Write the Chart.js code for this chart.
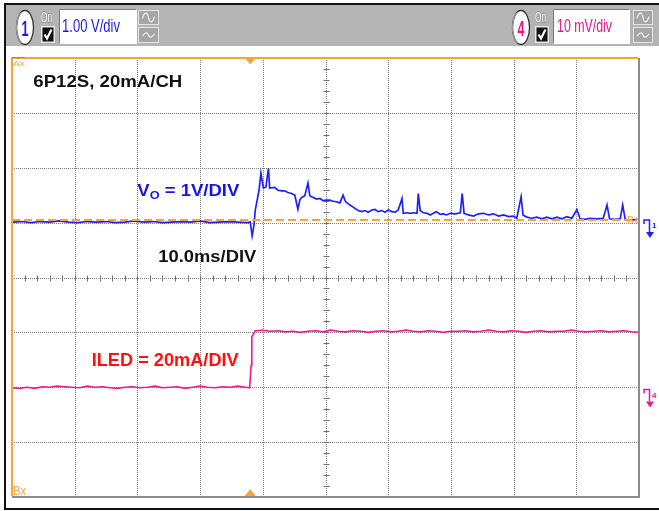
<!DOCTYPE html>
<html><head><meta charset="utf-8">
<script src="https://cdn.jsdelivr.net/npm/chart.js@4.4.0/dist/chart.umd.min.js"></script>
<style>html,body{margin:0;padding:0;background:#fff;overflow:hidden}canvas{display:block}</style>
</head><body>
<canvas id="c" width="659" height="511"></canvas>
<script>
// ---- data (time in ms, amplitude in screen divisions) ----
const voTime = [0,1.5,3,4.5,6,7.5,9,10.5,12,13.5,15,16.5,18,19.5,21,22.5,24,25.5,27,28.5,30,31.5,33,34.5,36,37.5,38.0,38.3,38.6,38.8,39.1,39.4,39.7,
  40.1,40.5,40.9,41.1,41.9,42.4,43.0,43.5,44.0,44.6,45.1,45.6,45.9,46.2,46.7,47.2,47.5,48.0,48.6,49.1,49.6,50.2,50.7,51.2,51.7,52.3,52.8,53.2,53.9,54.7,55.2,55.8,56.3,56.8,57.4,57.9,58.4,59.0,59.5,60.0,60.6,61.1,61.6,62.2,62.4,63.0,63.5,64.0,64.6,64.8,65.1,65.6,66.2,66.7,67.2,67.7,68.3,68.8,69.3,69.9,
  70.7,71.5,71.8,72.1,72.8,73.6,74.4,75.2,76.0,76.8,77.6,78.4,79.2,80.0,80.5,81.2,81.5,82.1,82.9,83.7,84.5,85.3,86.1,86.9,87.7,88.5,89.3,90.1,90.6,91.4,92.2,93.3,94.3,94.9,95.3,96.2,97.0,97.4,97.8,98.6,99.7];
const voDiv  = [1.01,1.02,1.00,1.02,1.01,1.03,1.01,1.00,1.02,1.01,1.02,1.00,1.01,1.03,1.01,1.02,1.00,1.01,1.02,1.01,1.03,1.00,1.01,1.02,1.01,1.00,1.01,0.76,0.96,1.23,1.41,1.59,1.90,
  1.63,1.65,1.99,1.63,1.64,1.59,1.58,1.58,1.55,1.53,1.50,1.24,1.41,1.46,1.49,1.72,1.49,1.46,1.43,1.44,1.40,1.41,1.41,1.39,1.38,1.36,1.50,1.38,1.32,1.26,1.22,1.20,1.22,1.19,1.23,1.24,1.20,1.22,1.19,1.23,1.20,1.19,1.23,1.44,1.17,1.18,1.17,1.18,1.17,1.53,1.22,1.18,1.17,1.14,1.17,1.20,1.15,1.16,1.14,1.17,
  1.16,1.18,1.53,1.17,1.14,1.12,1.16,1.17,1.14,1.16,1.12,1.14,1.11,1.12,1.08,1.47,1.14,1.10,1.08,1.10,1.07,1.10,1.07,1.10,1.07,1.11,1.08,1.24,1.07,1.06,1.08,1.07,1.08,1.32,1.07,1.06,1.07,1.32,1.06,1.04,1.06];
const iledTime = [0,1.2,2.4,3.6,4.8,6,7.2,8.4,9.6,10.8,12,13.2,14.4,15.6,16.8,18,19.2,20.4,21.6,22.8,24,25.2,26.4,27.6,28.8,30,31.2,32.4,33.6,34.8,36,37.2,37.9,38.15,38.25,
  38.8,40,41.2,42.4,43.6,44.8,46,47.2,48.4,49.6,50.8,52,53.2,54.4,55.6,56.8,58,59.2,60.4,61.6,62.8,64,65.2,66.4,67.6,68.8,70,71.2,72.4,73.6,74.8,76,77.2,78.4,79.6,80.8,82,83.2,84.4,85.6,86.8,88,89.2,90.4,91.6,92.8,94,95.2,96.4,97.6,98.8,100];
const iledDiv  = [-2.01,-2.02,-2.00,-2.02,-1.99,-2.00,-1.98,-1.99,-2.00,-2.01,-1.98,-2.00,-1.99,-2.01,-2.02,-2.00,-1.99,-2.01,-2.00,-1.98,-2.01,-2.00,-1.99,-2.02,-2.00,-1.98,-2.00,-2.01,-1.99,-2.00,-1.98,-2.00,-2.01,-1.60,-1.08,
  -0.97,-0.96,-0.98,-0.97,-0.99,-0.98,-1.00,-0.98,-0.97,-0.99,-0.96,-0.98,-0.99,-0.97,-0.98,-1.00,-0.98,-0.97,-0.99,-0.98,-0.96,-0.98,-0.99,-0.97,-0.98,-1.00,-0.98,-0.98,-0.97,-0.99,-0.98,-0.96,-0.98,-0.99,-0.97,-0.98,-1.00,-0.98,-0.97,-0.99,-0.98,-0.98,-0.96,-0.98,-0.99,-0.98,-0.97,-0.99,-0.98,-0.97,-0.99,-1.00];
const refTime = [0, 99.6];
const refDiv  = [1.05, 1.05];
const xGridTicks = [0,10,20,30,40,50,60,70,80,90,100];
const yGridTicks = [-4,-3,-2,-1,0,1,2,3,4];
const ch1Label = "1.00 V/div";
const ch4Label = "10 mV/div";
const titleText = "6P12S, 20mA/CH";
const voText = ["V", "O", " = 1V/DIV"];
const timeText = "10.0ms/DIV";
const iledText = "ILED = 20mA/DIV";

const FONT = "'Liberation Sans', Arial, sans-serif";
const ORANGE = '#f7a43c';
const BLUE = '#2020ff';
const PINK = '#f01890';

function fitText(ctx, txt, x, y, font, color, w) {
  ctx.save(); ctx.font = font; ctx.fillStyle = color; ctx.textBaseline = 'alphabetic';
  const m = ctx.measureText(txt).width; ctx.translate(x, y); ctx.scale(w / m, 1);
  ctx.fillText(txt, 0, 0); ctx.restore();
}

function drawGroup(ctx, g) {
  ctx.save();
  ctx.beginPath(); ctx.ellipse(g.ovalCx, 27.5, 8.5, 17, 0, 0, Math.PI * 2);
  ctx.fillStyle = '#fff'; ctx.fill(); ctx.lineWidth = 1.3; ctx.strokeStyle = '#333'; ctx.stroke();
  ctx.beginPath(); ctx.ellipse(g.ovalCx - 1, 27.5, 7.5, 16, 0, Math.PI * 0.6, Math.PI * 1.4);
  ctx.strokeStyle = '#9a9a9a'; ctx.lineWidth = 1.2; ctx.stroke();
  ctx.restore();
  fitText(ctx, g.digit, g.ovalCx - 3.5, 36, 'bold 22px ' + FONT, g.color, 7);
  // On
  ctx.save(); ctx.font = '15px ' + FONT;
  const mw = ctx.measureText('On').width; ctx.translate(g.onX, 22); ctx.scale(11 / mw, 1);
  ctx.lineWidth = 1.4; ctx.strokeStyle = '#8a8a8a'; ctx.strokeText('On', 0, 0);
  ctx.fillStyle = '#fbfbfb'; ctx.fillText('On', 0, 0); ctx.restore();
  // checkbox
  ctx.fillStyle = '#e6e6e6'; ctx.fillRect(g.onX, 26, 14, 17);
  ctx.fillStyle = '#111'; ctx.fillRect(g.onX + 1.5, 27.5, 11, 14);
  ctx.beginPath(); ctx.moveTo(g.onX + 3.5, 34.5); ctx.lineTo(g.onX + 6, 38.5); ctx.lineTo(g.onX + 10.5, 29.5);
  ctx.strokeStyle = '#fff'; ctx.lineWidth = 2.2; ctx.stroke();
  // value box
  ctx.fillStyle = '#fff'; ctx.fillRect(g.boxX, 9, g.boxW, 35);
  ctx.strokeStyle = '#7a7a7a'; ctx.lineWidth = 1;
  ctx.beginPath(); ctx.moveTo(g.boxX + 0.5, 43.5); ctx.lineTo(g.boxX + 0.5, 9.5); ctx.lineTo(g.boxX + g.boxW - 0.5, 9.5); ctx.stroke();
  fitText(ctx, g.label, g.textX, 32, '18px ' + FONT, g.color, g.textW);
  // buttons
  [[10, 15], [27, 16]].forEach((b, i) => {
    ctx.fillStyle = '#a6a6a6'; ctx.fillRect(g.btnX, b[0], g.btnW, b[1]);
    ctx.strokeStyle = '#e4e4e4'; ctx.lineWidth = 1;
    ctx.strokeRect(g.btnX + 0.5, b[0] + 0.5, g.btnW - 1, b[1] - 1);
    ctx.beginPath();
    const cx = g.btnX + g.btnW / 2, cy = b[0] + b[1] / 2;
    if (i === 0) {
      ctx.moveTo(cx - 6, cy + 1);
      ctx.bezierCurveTo(cx - 4, cy - 6, cx - 1, cy - 6, cx, cy);
      ctx.bezierCurveTo(cx + 1, cy + 6, cx + 4, cy + 6, cx + 6, cy - 1);
    } else {
      ctx.moveTo(cx - 6, cy + 1);
      ctx.bezierCurveTo(cx - 3, cy - 3, cx - 1, cy - 3, cx, cy);
      ctx.bezierCurveTo(cx + 1, cy + 3, cx + 3, cy + 3, cx + 6, cy - 1);
    }
    ctx.strokeStyle = '#f4f4f4'; ctx.lineWidth = 1.1; ctx.stroke();
  });
}

function chMarker(ctx, y, color, digit) {
  ctx.save(); ctx.strokeStyle = color; ctx.fillStyle = color; ctx.lineWidth = 1.5;
  ctx.beginPath(); ctx.moveTo(644, y + 4); ctx.lineTo(644, y); ctx.lineTo(649.5, y); ctx.lineTo(649.5, y + 12); ctx.stroke();
  ctx.beginPath(); ctx.moveTo(646, y + 12); ctx.lineTo(654, y + 12); ctx.lineTo(650, y + 18); ctx.closePath(); ctx.fill();
  ctx.font = 'bold 8px ' + FONT; ctx.fillText(digit, 652, y + 8);
  ctx.restore();
}

const scopePlugin = {
  id: 'scope',
  beforeDraw(chart) {
    const ctx = chart.ctx, xs = chart.scales.x, ys = chart.scales.y, a = chart.chartArea;
    ctx.save();
    ctx.fillStyle = '#fff'; ctx.fillRect(0, 0, 659, 511);
    ctx.fillStyle = '#b4b4b4'; ctx.fillRect(6, 5, 653, 41);
    drawGroup(ctx, {ovalCx: 25, digit: '1', color: '#1a1ae8', onX: 41, boxX: 59, boxW: 78, textX: 62, textW: 58, label: ch1Label, btnX: 138, btnW: 21});
    drawGroup(ctx, {ovalCx: 521, digit: '4', color: '#e6148a', onX: 535, boxX: 553, boxW: 77, textX: 557, textW: 55, label: ch4Label, btnX: 633, btnW: 20});
    ctx.fillStyle = '#111';
    ctx.fillRect(4, 3, 655, 2);
    ctx.fillRect(4, 3, 2, 507);
    ctx.fillRect(4, 508, 655, 2);
    // grid
    ctx.strokeStyle = '#7e7e7e'; ctx.lineWidth = 1; ctx.setLineDash([1, 1]);
    xGridTicks.forEach(t => {
      const px = Math.round(xs.getPixelForValue(t)) + 0.5;
      ctx.beginPath(); ctx.moveTo(px, a.top); ctx.lineTo(px, a.bottom); ctx.stroke();
    });
    yGridTicks.forEach(v => {
      const py = Math.round(ys.getPixelForValue(v)) + 0.5;
      ctx.beginPath(); ctx.moveTo(a.left, py); ctx.lineTo(a.right, py); ctx.stroke();
    });
    ctx.setLineDash([]);
    ctx.strokeStyle = '#707070';
    const cy = Math.round(ys.getPixelForValue(0)) + 0.5;
    const cx = Math.round(xs.getPixelForValue(50)) + 0.5;
    for (let i = 1; i < 50; i++) {
      const px = Math.round(xs.getPixelForValue(i * 2)) + 0.5;
      ctx.beginPath(); ctx.moveTo(px, cy - 3); ctx.lineTo(px, cy + 3); ctx.stroke();
    }
    for (let i = 1; i < 40; i++) {
      const py = Math.round(ys.getPixelForValue(-4 + i * 0.2)) + 0.5;
      ctx.beginPath(); ctx.moveTo(cx - 3, py); ctx.lineTo(cx + 3, py); ctx.stroke();
    }
    ctx.restore();
  },
  afterDatasetsDraw(chart) {
    const ctx = chart.ctx, a = chart.chartArea, xs = chart.scales.x;
    ctx.save();
    ctx.fillStyle = '#8c8c8c';
    ctx.fillRect(a.left, a.bottom - 1, a.right - a.left + 1, 2);
    ctx.fillRect(a.right - 1, a.top, 2, a.bottom - a.top + 1);
    ctx.fillStyle = ORANGE;
    ctx.fillRect(a.left - 1, a.top - 1, a.right - a.left, 2);
    ctx.fillRect(a.left - 1, a.top - 1, 2, a.bottom - a.top);
    ctx.fillStyle = '#8c8c8c'; ctx.fillRect(a.left, a.top - 1, 13, 1);
    const tx = xs.getPixelForValue(38.0);
    ctx.fillStyle = ORANGE;
    ctx.beginPath(); ctx.moveTo(tx - 5.5, a.top); ctx.lineTo(tx + 5.5, a.top); ctx.lineTo(tx, a.top + 6.5); ctx.closePath(); ctx.fill();
    ctx.beginPath(); ctx.moveTo(tx - 5.5, a.bottom - 1); ctx.lineTo(tx + 5.5, a.bottom - 1); ctx.lineTo(tx, a.bottom - 8); ctx.closePath(); ctx.fill();
    fitText(ctx, 'Ax', a.left + 1, a.top + 8, '8px ' + FONT, ORANGE, 12);
    fitText(ctx, 'Bx', a.left + 1, a.bottom - 2, '13px ' + FONT, ORANGE, 13);
    fitText(ctx, 'Bx', 627, 224, '10px ' + FONT, ORANGE, 12);
    chMarker(ctx, 220, BLUE, '1');
    chMarker(ctx, 389.5, PINK, '4');
    fitText(ctx, titleText, 33.3, 87.3, 'bold 17px ' + FONT, '#111', 149);
    fitText(ctx, timeText, 158.3, 261.7, 'bold 17px ' + FONT, '#111', 98);
    fitText(ctx, iledText, 91.7, 366, 'bold 18px ' + FONT, '#ff1010', 147);
    ctx.font = 'bold 16px ' + FONT; const wV = ctx.measureText(voText[0]).width, wR = ctx.measureText(voText[2]).width;
    ctx.font = 'bold 11px ' + FONT; const wO = ctx.measureText(voText[1]).width;
    const s = 102 / (wV + wO + wR);
    ctx.translate(137.3, 195.7); ctx.scale(s, 1); ctx.fillStyle = '#1414ee';
    ctx.font = 'bold 16px ' + FONT; ctx.fillText(voText[0], 0, 0); ctx.fillText(voText[2], wV + wO, 0);
    ctx.font = 'bold 11px ' + FONT; ctx.fillText(voText[1], wV, 3.5);
    ctx.restore();
  }
};

const toXY = (xs, ys) => xs.map((x, i) => ({x, y: ys[i]}));

new Chart(document.getElementById('c'), {
  type: 'line',
  data: {
    datasets: [
      {label: 'ref', data: toXY(refTime, refDiv), borderColor: ORANGE, borderWidth: 2, borderDash: [8, 4], pointRadius: 0, order: 0},
      {label: 'VO', data: toXY(voTime, voDiv), borderColor: BLUE, borderWidth: 1.7, pointRadius: 0, tension: 0, order: 1},
      {label: 'ILED', data: toXY(iledTime, iledDiv), borderColor: PINK, borderWidth: 1.6, pointRadius: 0, tension: 0, order: 2}
    ]
  },
  options: {
    responsive: false, animation: false, devicePixelRatio: 1,
    layout: {padding: {left: 12, top: 58, right: 20, bottom: 14}},
    plugins: {legend: {display: false}, tooltip: {enabled: false}},
    scales: {
      x: {type: 'linear', min: 0, max: 100, display: true, ticks: {display: false}, grid: {display: false, drawTicks: false}, border: {display: false}},
      y: {type: 'linear', min: -4, max: 4, display: true, ticks: {display: false}, grid: {display: false, drawTicks: false}, border: {display: false}}
    }
  },
  plugins: [scopePlugin]
});
</script>
</body></html>
